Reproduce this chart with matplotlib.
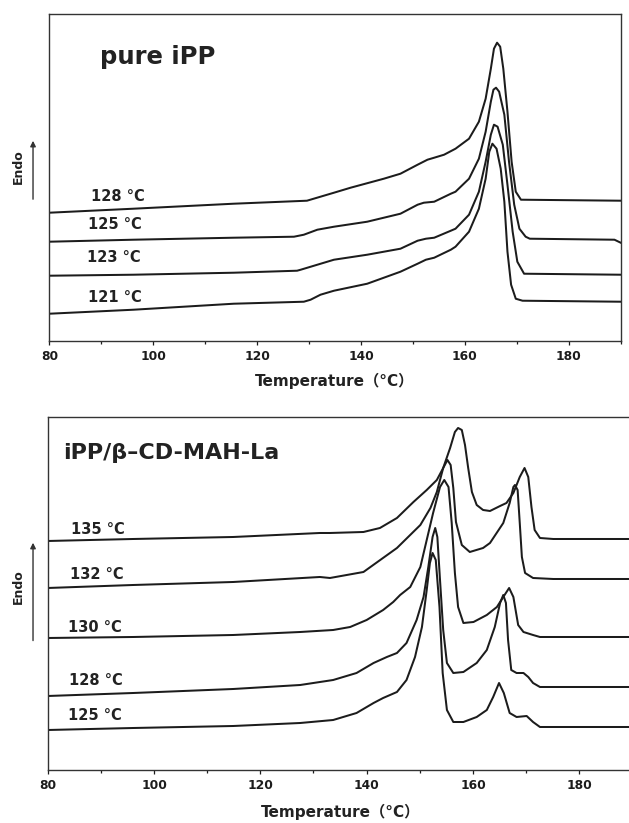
import matplotlib
matplotlib.use('Agg')
import matplotlib.pyplot as plt
from matplotlib.ticker import MultipleLocator

## ------------------------------
## data: DSC melting curves, temperature in C, heat flow in arbitrary units

# pure iPP, crystallised at 128/125/123/121 C
t_128a = [80.0, 96.2, 115.5, 129.6, 132.2, 134.8, 138.0, 144.4, 147.6, 150.9, 152.8, 154.1, 156.0, 158.2,
          160.8, 162.7, 164.0, 165.0, 165.6, 166.2, 166.8, 167.4, 168.2, 169.0, 169.8, 170.8, 190.0]
h_128a = [128, 132, 137, 140, 144, 148, 153, 162, 167, 176, 181, 183, 186, 192,
          202, 219, 242, 272, 292, 298, 294, 272, 229, 179, 149, 141, 140]

t_125a = [80.0, 96.2, 115.5, 127.1, 129.0, 131.6, 134.8, 141.2, 147.6, 150.9, 152.1, 154.1, 157.3, 158.2,
          160.8, 162.7, 164.0, 165.0, 165.5, 166.0, 166.6, 167.6, 168.5, 169.5, 170.5, 171.7, 172.5, 188.8,
          190.0]
h_125a = [99, 101, 103, 104, 106, 111, 114, 119, 127, 136, 138, 139, 147, 149,
          162, 182, 209, 239, 251, 253, 249, 226, 179, 136, 112, 104, 102, 101,
          98]

t_123a = [80.0, 96.2, 115.5, 127.7, 128.4, 131.6, 134.8, 141.2, 147.6, 150.9, 152.5, 154.1, 157.3, 158.2,
          160.8, 162.7, 164.0, 165.0, 165.6, 166.3, 167.3, 168.2, 169.2, 170.1, 171.4, 190.0]
h_123a = [65, 66, 68, 70, 71, 76, 81, 86, 92, 100, 102, 103, 110, 112,
          126, 149, 179, 206, 216, 214, 196, 156, 109, 79, 67, 66]

t_121a = [80.0, 96.2, 115.5, 129.0, 130.3, 132.2, 134.8, 141.2, 147.6, 150.9, 152.5, 154.1, 157.3, 158.2,
          160.8, 162.7, 164.0, 164.7, 165.3, 166.1, 166.9, 167.6, 168.2, 168.9, 169.8, 171.1, 190.0]
h_121a = [27, 31, 37, 39, 41, 46, 50, 57, 69, 77, 81, 83, 91, 94,
          109, 132, 162, 189, 197, 192, 172, 139, 89, 56, 42, 40, 39]

# iPP/beta-CD-MAH-La, crystallised at 135/132/130/128/125 C
t_135b = [80.0, 96.1, 114.9, 131.2, 133.1, 139.4, 142.5, 145.7, 148.8, 151.3, 153.2, 154.4, 155.7, 156.6,
          157.2, 157.9, 158.5, 159.1, 159.8, 160.7, 161.9, 163.2, 165.1, 166.3, 167.6, 168.8, 169.7, 170.4,
          171.0, 171.6, 172.6, 175.1, 190.0]
h_135b = [229, 231, 233, 237, 237, 238, 242, 252, 268, 280, 290, 302, 322, 338,
          342, 340, 325, 302, 278, 265, 260, 259, 264, 267, 277, 293, 302, 293,
          263, 240, 232, 231, 231]

t_132b = [80.0, 96.1, 114.9, 131.2, 133.1, 139.4, 145.7, 150.1, 152.0, 153.2, 154.4, 155.2, 155.8, 156.3,
          156.8, 157.9, 159.4, 161.9, 163.2, 165.7, 166.9, 167.6, 167.9, 168.4, 168.8, 169.2, 169.8, 171.3,
          175.1, 190.0]
h_132b = [182, 185, 188, 193, 192, 198, 222, 245, 262, 278, 302, 310, 305, 282,
          248, 225, 218, 222, 227, 247, 267, 283, 285, 280, 247, 213, 197, 192,
          191, 191]

t_130b = [80.0, 96.1, 114.9, 127.5, 133.7, 136.9, 140.0, 143.1, 145.0, 146.3, 148.2, 150.1, 151.3, 152.5,
          153.8, 154.6, 155.4, 156.0, 156.6, 157.2, 158.2, 160.1, 162.6, 164.5, 165.7, 166.8, 167.6, 168.5,
          169.5, 171.3, 172.6, 190.0]
h_130b = [132, 133, 135, 138, 140, 143, 150, 160, 168, 175, 183, 203, 230, 257,
          283, 290, 283, 247, 197, 163, 147, 148, 155, 163, 173, 182, 173, 145,
          138, 135, 133, 133]

t_128b = [80.0, 96.1, 114.9, 127.5, 133.7, 138.1, 141.3, 143.8, 145.7, 147.5, 149.4, 150.7, 151.6, 152.4,
          152.9, 153.3, 153.8, 154.4, 155.1, 156.3, 158.2, 160.7, 162.6, 164.1, 165.1, 165.7, 166.2, 166.6,
          167.2, 168.2, 169.5, 170.4, 171.3, 172.6, 190.0]
h_128b = [74, 77, 81, 85, 90, 97, 107, 113, 117, 127, 150, 173, 203, 233,
          242, 233, 190, 140, 107, 97, 98, 107, 120, 143, 167, 175, 167, 130,
          100, 97, 97, 93, 87, 83, 83]

t_125b = [80.0, 96.1, 114.9, 127.5, 133.7, 138.1, 141.3, 143.1, 145.7, 147.5, 149.1, 150.4, 151.3, 151.9,
          152.4, 153.0, 153.7, 154.3, 155.1, 156.3, 158.2, 160.7, 162.6, 163.8, 164.9, 165.8, 166.9, 168.2,
          170.1, 171.3, 172.6, 190.0]
h_125b = [40, 42, 44, 47, 50, 57, 67, 72, 78, 90, 113, 143, 180, 207,
          217, 210, 163, 97, 60, 48, 48, 53, 60, 73, 87, 77, 57, 53,
          54, 48, 43, 43]

curves_a = [(t_128a, h_128a), (t_125a, h_125a), (t_123a, h_123a), (t_121a, h_121a)]
labels_a = ['128 °C', '125 °C', '123 °C', '121 °C']
labelpos_a = [(88.0, 144), (87.5, 116), (87.3, 83), (87.5, 43)]

curves_b = [(t_135b, h_135b), (t_132b, h_132b), (t_130b, h_130b), (t_128b, h_128b), (t_125b, h_125b)]
labels_b = ['135 °C', '132 °C', '130 °C', '128 °C', '125 °C']
labelpos_b = [(84.4, 240), (84.2, 195), (83.8, 142), (84.0, 89), (83.8, 54)]

FONT = 'DejaVu Sans'
LINE = '#1c1c1c'


def style_axes(ax, ymax, xlabelpad):
	ax.set_xlim(80, 190)
	ax.set_ylim(0, ymax)
	ax.xaxis.set_major_locator(MultipleLocator(20))
	ax.xaxis.set_minor_locator(MultipleLocator(10))
	ax.set_xticks([80, 100, 120, 140, 160, 180])
	ax.set_yticks([])
	ax.tick_params(axis='x', which='major', direction='out', length=3.2, width=0.9, pad=3.5, colors=LINE)
	ax.tick_params(axis='x', which='minor', direction='out', length=2.4, width=0.9, colors=LINE)
	for lab in ax.get_xticklabels():
		lab.set_fontfamily(FONT)
		lab.set_fontweight('bold')
		lab.set_fontsize(8.8)
	for sp in ax.spines.values():
		sp.set_linewidth(1.0)
		sp.set_color('#333333')
	ax.set_xlabel('Temperature\uff08°C\uff09', family=[FONT, 'Noto Sans CJK SC'], fontweight='bold',
				  fontsize=11, labelpad=xlabelpad, color='#222222')


fig = plt.figure(figsize=(6.29, 8.23), dpi=100)

## top panel
ax1 = fig.add_axes([0.0784, 0.586, 0.9084, 0.397])
for (t, h) in curves_a:
	ax1.plot(t, h, color=LINE, lw=1.45)
for lab, (x, y) in zip(labels_a, labelpos_a):
	ax1.text(x, y, lab, family=FONT, fontweight='bold', fontsize=10.5, ha='left', va='center', color='#222222')
ax1.text(89.8, 284, 'pure iPP', family=FONT, fontweight='bold', fontsize=17.5, ha='left', va='center',
		 color='#222222')
style_axes(ax1, 326.7, 7)

## bottom panel (right edge runs past the page)
ax2 = fig.add_axes([0.0758, 0.0644, 0.9297, 0.4293])
for (t, h) in curves_b:
	ax2.plot(t, h, color=LINE, lw=1.45)
for lab, (x, y) in zip(labels_b, labelpos_b):
	ax2.text(x, y, lab, family=FONT, fontweight='bold', fontsize=10.5, ha='left', va='center', color='#222222')
ax2.text(82.9, 317, 'iPP/β–CD-MAH-La', family=FONT, fontweight='bold', fontsize=16, ha='left', va='center',
		 color='#222222')
style_axes(ax2, 353.3, 8)

## "Endo" labels with arrows
for ytxt, y0, y1 in [(0.797, 0.7546, 0.8323), (0.2871, 0.2183, 0.3439)]:
	fig.text(0.0286, ytxt, 'Endo', family=FONT, fontweight='bold', fontsize=9, rotation=90,
			 ha='center', va='center', color='#222222')
	ax1.annotate('', xy=(0.0525, y1), xytext=(0.0525, y0), xycoords='figure fraction',
				 textcoords='figure fraction', annotation_clip=False,
				 arrowprops=dict(arrowstyle='-|>', color='#333333', lw=1.0, mutation_scale=8))

plt.savefig('out.png', dpi=100)
plt.close(fig)
